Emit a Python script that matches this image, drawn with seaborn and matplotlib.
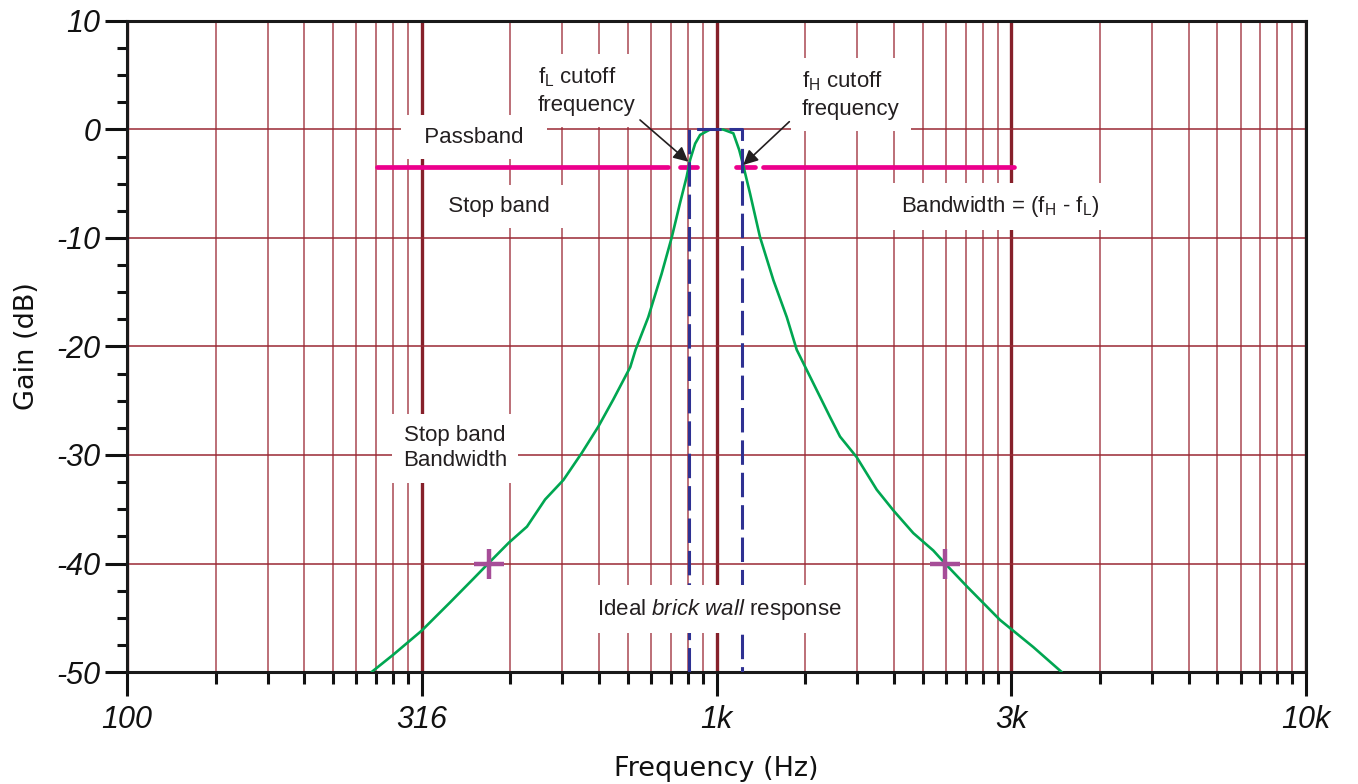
import numpy as np
import matplotlib
matplotlib.use("Agg")
import matplotlib.pyplot as plt
import seaborn as sns

# green measured response (Hz, dB)
freq = [260, 283, 316, 353, 387, 410, 444, 477, 512, 550, 591, 630, 668, 714, 729,
        766, 807, 840, 867, 890, 902, 920, 938, 975, 1026, 1068, 1093, 1110, 1140,
        1185, 1249, 1316, 1368, 1460, 1558, 1620, 1729, 1870, 1995, 2157, 2332, 2442,
        2658, 3026, 3446, 3850]
gain = [-50, -48.4, -46.2, -43.6, -41.4, -40.0, -38.1, -36.6, -34.1, -32.3, -29.8,
        -27.4, -24.9, -21.9, -20.3, -17.3, -13.3, -9.9, -6.8, -4.35, -2.8, -1.3, -0.5,
        0, 0, -0.35, -1.9, -3.3, -5.9, -9.9, -13.9, -17.3, -20.3, -23.4, -26.5, -28.3,
        -30.2, -33.2, -35.1, -37.2, -38.8, -40.0, -42.1, -45.2, -47.7, -50]

# ideal brick wall
f_low, f_high = 898, 1105
wall_x = [f_low, f_low, f_high, f_high]
wall_y = [-50, 0, 0, -50]

# -3 dB reference (pink segments)
ref_level = -3.5
ref_start = [265.5, 867, 1079, 1199]
ref_end = [827, 927, 1162, 3197]

# stop band markers
cross_f = [411, 2442]
cross_db = [-40, -40]

major_f = [100, 316.2, 1000, 3162, 10000]
major_lbl = ["100", "316", "1k", "3k", "10k"]
subdiv = [2, 3, 4, 5, 6, 7, 8, 9]

grid_col = "#9a2834"
txt_col = "#231f20"

sns.set_style("white")
plt.rcParams["font.family"] = ["Liberation Sans", "DejaVu Sans"]
plt.rcParams["mathtext.fontset"] = "custom"
plt.rcParams["mathtext.rm"] = "Liberation Sans"
plt.rcParams["mathtext.it"] = "Liberation Sans:italic"
plt.rcParams["axes.unicode_minus"] = False

fig = plt.figure(figsize=(13.58, 7.84), dpi=100)
ax = fig.add_axes([127 / 1358, 112 / 784, 1179 / 1358, 651 / 784])

ax.set_xscale("log")
ax.set_xlim(100, 10000)
ax.set_ylim(-50, 10)

minor_f = [b * np.sqrt(n) for b in major_f[:-1] for n in subdiv]
ax.set_xticks(major_f)
ax.set_xticklabels(major_lbl)
ax.set_xticks(minor_f, minor=True)
ax.set_xticklabels([], minor=True)
ax.set_yticks(np.arange(-50, 11, 10))
ax.set_yticks(np.arange(-50, 10.1, 2.5), minor=True)

ax.grid(axis="y", which="major", color=grid_col, lw=1.1, zorder=0)
ax.grid(axis="x", which="minor", color=grid_col, lw=1.1, alpha=0.85)
ax.grid(axis="x", which="major", color="#86202a", lw=2.4)
ax.set_axisbelow(True)

for s in ax.spines.values():
    s.set_linewidth(2.2)
    s.set_color("#1a1a1a")

ax.tick_params(which="both", bottom=True, left=True, top=False, right=False)
ax.tick_params(axis="x", which="major", direction="out", length=17, width=2.2, pad=7,
               labelsize=22, colors="#111")
ax.tick_params(axis="x", which="minor", direction="out", length=8.5, width=2.2,
               colors="#111")
ax.tick_params(axis="y", which="major", direction="out", length=16, width=2.2, pad=3,
               labelsize=22, colors="#111")
ax.tick_params(axis="y", which="minor", direction="out", length=7.5, width=2.2,
               colors="#111")
for lab in ax.get_xticklabels() + ax.get_yticklabels():
    lab.set_fontstyle("italic")

ax.set_xlabel("Frequency (Hz)", family="DejaVu Sans", fontsize=19.5, labelpad=15,
              color="#111")
ax.set_ylabel("Gain (dB)", family="DejaVu Sans", fontsize=19.5, labelpad=12,
              color="#111")

# pink -3 dB line
for a, b in zip(ref_start, ref_end):
    ax.plot([a, b], [ref_level, ref_level], color="#ec008c", lw=3.4,
            solid_capstyle="round", zorder=2)

sns.lineplot(x=freq, y=gain, ax=ax, color="#00a651", lw=1.9, sort=False,
             estimator=None, zorder=3)

ax.plot(wall_x, wall_y, color="#2e3192", lw=2.2, dashes=(8, 2.6), zorder=4)

ax.plot(cross_f, cross_db, ls="none", marker="+", ms=21, mew=3.2, color="#a64d98",
        zorder=5)

box = dict(boxstyle="square,pad=0.5", fc="white", ec="none")
kw = dict(fontsize=16, color=txt_col, bbox=box, zorder=6)
ax.text(388, -0.7, "  Passband  ", ha="center", va="center", **kw)
ax.text(427, -7.1, "  Stop band  ", ha="center", va="center", **kw)
ax.text(360, -29.4, "Stop band\nBandwidth", ha="center", va="center",
        linespacing=1.25, **kw)
ax.text(498, 3.6, "f$_\\mathregular{L}$ cutoff\nfrequency", ha="left", va="center",
        linespacing=1.35, **kw)
ax.text(1396, 3.2, "f$_\\mathregular{H}$ cutoff\nfrequency", ha="left", va="center",
        linespacing=1.35, **kw)
ax.text(2056, -7.1, "Bandwidth = (f$_\\mathregular{H}$ - f$_\\mathregular{L}$)",
        ha="left", va="center", **kw)
ax.text(1000, -44.2, " Ideal $\\mathit{brick\\ wall}$ response ", ha="center",
        va="center", **kw)

arrow = dict(arrowstyle="-|>", color=txt_col, lw=1.2, mutation_scale=22,
             shrinkA=0, shrinkB=0)
ax.annotate("", xy=(895.6, -2.97), xytext=(741.7, 0.88), arrowprops=arrow, zorder=7)
ax.annotate("", xy=(1110, -3.27), xytext=(1329, 0.72), arrowprops=arrow, zorder=7)

fig.savefig("out.png", dpi=100)
